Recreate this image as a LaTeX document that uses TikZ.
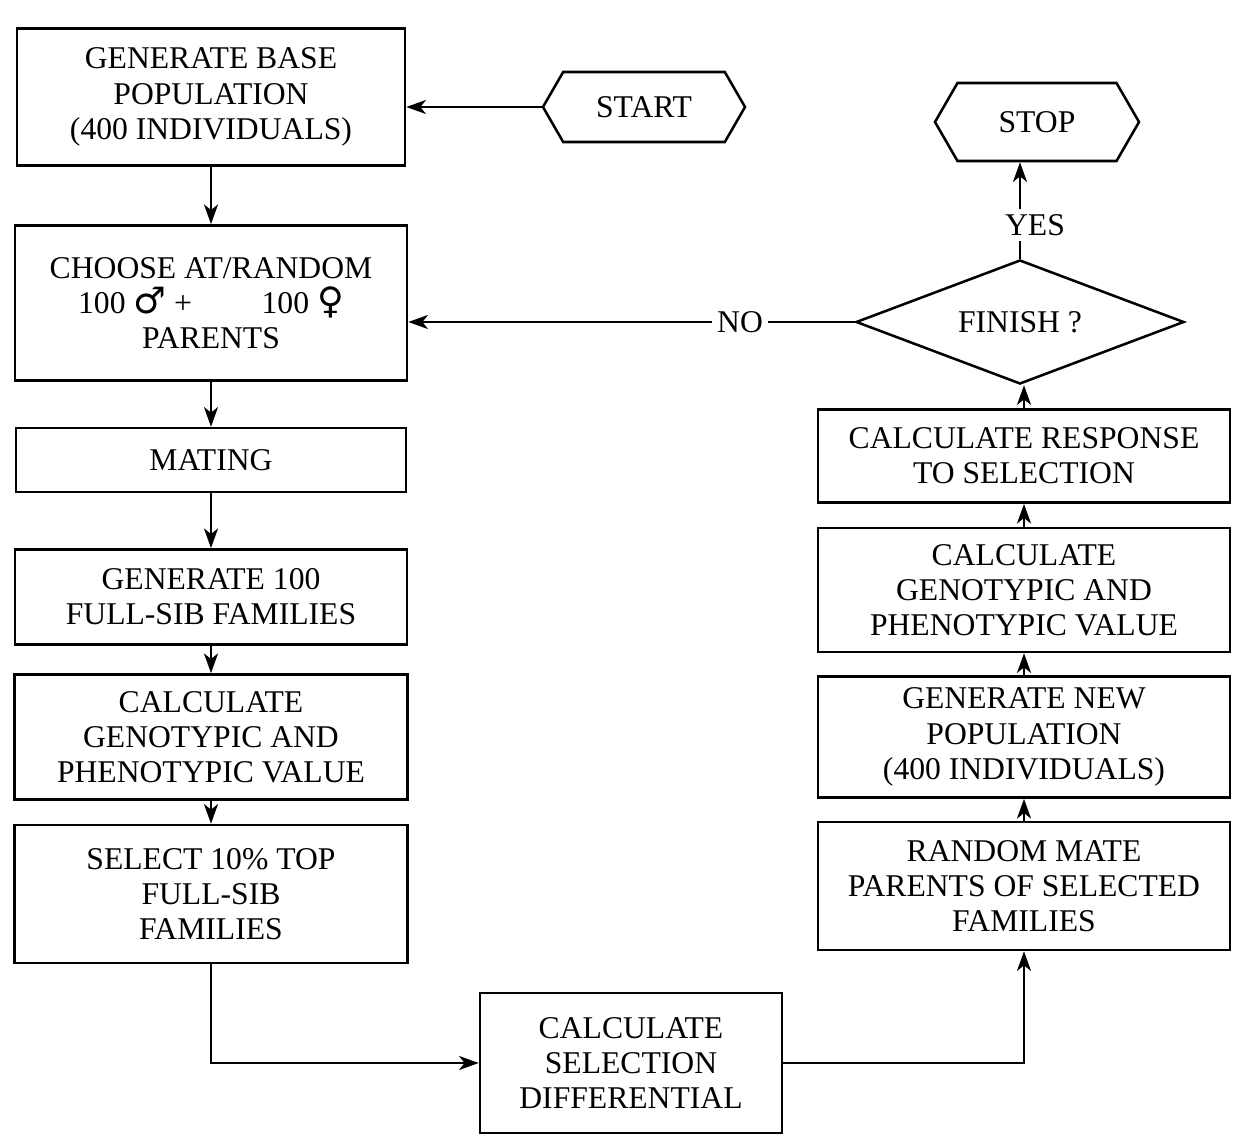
\documentclass[tikz,border=0pt]{standalone}
\usepackage{fontspec}
\setmainfont{Liberation Serif}
\newfontfamily\symfont{DejaVu Sans}
\usetikzlibrary{shapes.geometric,shapes.symbols,arrows.meta}

\begin{document}
\begin{tikzpicture}
[x=0.025cm,y=-0.025cm,
  boxDecorate/.style={draw,line width=1.8pt,align=center,inner sep=2pt},%
  endDecorate/.style={draw,line width=1.8pt,shape=signal,signal to=west and east,signal pointer angle=120,inner sep=2pt},%
  askDecorate/.style={draw,line width=1.8pt,shape=diamond,aspect=2.65,inner sep=0pt},%
  arrowDecorate/.style={-{Stealth[length=14pt,width=10pt,inset=4pt]},line width=1.6pt},%
  lineDecorate/.style={line width=1.6pt},%
  font=\fontsize{22.5}{25}\selectfont]
\useasboundingbox (0,0) rectangle (1238,1135);
%% left column
\node (base) at (211,97) [boxDecorate,minimum width=9.7cm,minimum height=3.43cm] {GENERATE BASE\\POPULATION\\(400 INDIVIDUALS)};
\node (choose) at (211,303) [boxDecorate,minimum width=9.8cm,minimum height=3.88cm] {CHOOSE AT/RANDOM\\100 {\symfont\fontsize{26}{25}\selectfont ♂} +\hspace{2.2em}100 {\symfont\fontsize{26}{25}\selectfont ♀}\\PARENTS};
\node (mating) at (211,460) [boxDecorate,minimum width=9.75cm,minimum height=1.6cm] {MATING};
\node (gen100) at (211,597) [boxDecorate,minimum width=9.8cm,minimum height=2.38cm] {GENERATE 100\\FULL-SIB FAMILIES};
\node (calcL) at (211,737) [boxDecorate,minimum width=9.83cm,minimum height=3.13cm] {CALCULATE\\GENOTYPIC AND\\PHENOTYPIC VALUE};
\node (select) at (211,894) [boxDecorate,minimum width=9.83cm,minimum height=3.45cm] {SELECT 10\% TOP\\FULL-SIB\\FAMILIES};
%% bottom
\node (seldiff) at (631,1063) [boxDecorate,minimum width=7.55cm,minimum height=3.5cm] {CALCULATE\\SELECTION\\DIFFERENTIAL};
%% right column
\node (random) at (1024,886) [boxDecorate,minimum width=10.3cm,minimum height=3.2cm] {RANDOM MATE\\PARENTS OF SELECTED\\FAMILIES};
\node (gennew) at (1024,737) [boxDecorate,minimum width=10.3cm,minimum height=3.03cm] {GENERATE NEW\\POPULATION\\(400 INDIVIDUALS)};
\node (calcR) at (1024,590) [boxDecorate,minimum width=10.3cm,minimum height=3.1cm] {CALCULATE\\GENOTYPIC AND\\PHENOTYPIC VALUE};
\node (resp) at (1024,456) [boxDecorate,minimum width=10.3cm,minimum height=2.33cm] {CALCULATE RESPONSE\\TO SELECTION};
\node (finish) at (1020,322) [askDecorate,minimum width=8.2cm,minimum height=3.1cm] {FINISH ?};
%% terminals and labels
\node (start) at (644,107) [endDecorate,minimum width=5.05cm,minimum height=1.75cm] {START};
\node (stop) at (1037,122) [endDecorate,minimum width=5.1cm,minimum height=1.95cm] {STOP};
\node (no) at (740,322) {NO};
\node (yes) at (1035,225) {YES};
%% arrows
\path
\foreach \startnode/\endnode in {base/choose, choose/mating, mating/gen100, gen100/calcL, calcL/select}
{
  (\startnode.south) edge[arrowDecorate] (\endnode.north)
};
\path
\foreach \startnode/\endnode in {random/gennew, gennew/calcR, calcR/resp}
{
  (\startnode.north) edge[arrowDecorate] (\endnode.south)
};
\draw[arrowDecorate] (resp.north) -- (resp.north |- finish.south);
\draw[arrowDecorate] (start.west) -- (start.west -| base.east);
\draw[lineDecorate] (finish.west) -- (no.east);
\draw[arrowDecorate] (no.west) -- (no.west -| choose.east);
\draw[lineDecorate] (finish.north) -- (finish.north |- yes.south);
\draw[arrowDecorate] (finish.north |- yes.north) -- (finish.north |- stop.south);
\draw[arrowDecorate] (select.south) |- (seldiff.west);
\draw[arrowDecorate] (seldiff.east) -| (random.south);
\end{tikzpicture}
\end{document}
